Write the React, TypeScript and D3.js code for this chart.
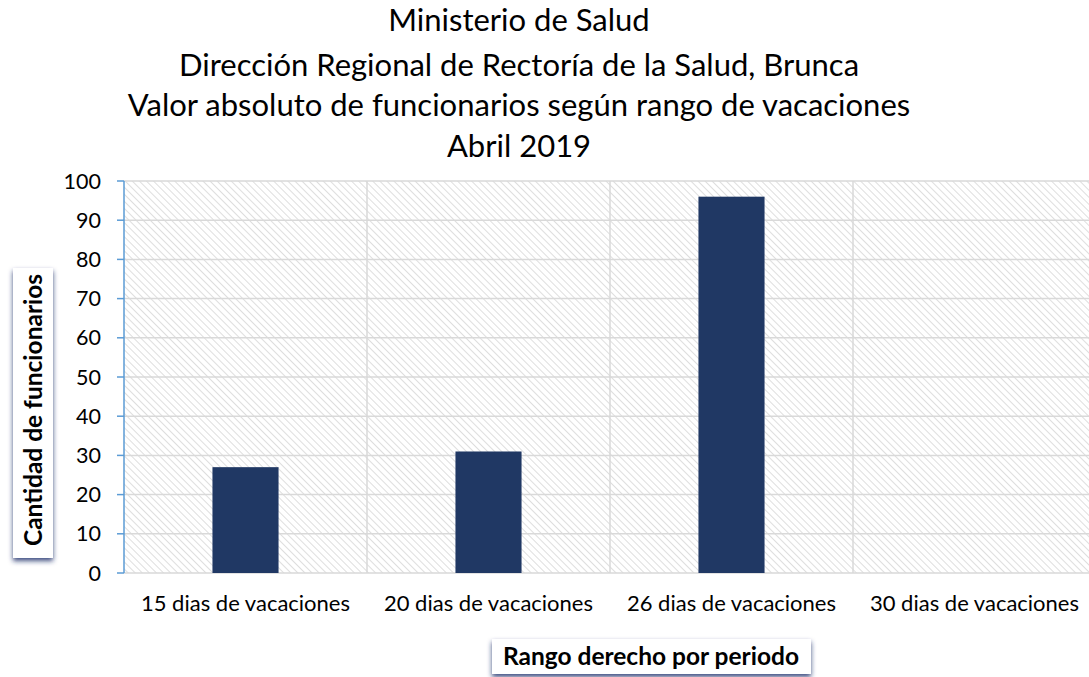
import React from "react";
import * as d3 from "d3";

const categories = ["15 dias de vacaciones", "20 dias de vacaciones", "26 dias de vacaciones", "30 dias de vacaciones"];
const values = [27, 31, 96, 0];
const yTicks = [0, 10, 20, 30, 40, 50, 60, 70, 80, 90, 100];
const titleLines = [
  "Ministerio de Salud",
  "Dirección Regional de Rectoría de la Salud, Brunca",
  "Valor absoluto de funcionarios según rango de vacaciones",
  "Abril 2019",
];
const yTitle = "Cantidad de funcionarios";
const xTitle = "Rango derecho por periodo";

const W = 1089;
const H = 677;
const font = "Lato, 'Open Sans', sans-serif";

export default function App() {
  const left = 124, right = 1096, top = 181, bottom = 573;
  const x = d3.scaleBand<string>().domain(categories).range([left, right]).paddingInner(0).paddingOuter(0);
  const y = d3.scaleLinear().domain([0, 100]).range([bottom, top]);
  const bw = x.bandwidth();
  const barW = bw * 0.272;
  const titleY = [31, 76, 116, 157];

  return (
    <svg width={W} height={H} style={{ position: "absolute", left: 0, top: 0, background: "#fff" }}>
      <defs>
        <pattern id="hatch" width="5" height="5" patternUnits="userSpaceOnUse" patternTransform="rotate(-45)">
          <rect width="5" height="5" fill="#fff" />
          <line x1="0" y1="0" x2="0" y2="5" stroke="#dedede" strokeWidth="2" />
        </pattern>
        <filter id="shadow" x="-50%" y="-50%" width="200%" height="200%">
          <feGaussianBlur in="SourceAlpha" stdDeviation="2.5" />
          <feOffset dx="0" dy="3" result="b" />
          <feFlood floodColor="#1f2f6b" floodOpacity="0.85" />
          <feComposite in2="b" operator="in" />
          <feMerge>
            <feMergeNode />
            <feMergeNode in="SourceGraphic" />
          </feMerge>
        </filter>
      </defs>

      {titleLines.map((t, i) => (
        <text key={i} x={519} y={titleY[i]} textAnchor="middle" fontFamily={font} fontSize={31} fill="#000">
          {t}
        </text>
      ))}

      <rect x={left} y={top} width={right - left} height={bottom - top} fill="url(#hatch)" />

      {yTicks.map((t) => (
        <line key={"g" + t} x1={left} x2={right} y1={y(t)} y2={y(t)} stroke="#d9d9d9" strokeWidth={1.5} />
      ))}
      {categories.map((c, i) =>
        i > 0 ? (
          <line key={"v" + c} x1={x(c)!} x2={x(c)!} y1={top} y2={bottom} stroke="#d9d9d9" strokeWidth={1.5} />
        ) : null
      )}

      {categories.map((c, i) =>
        values[i] > 0 ? (
          <rect
            key={"b" + c}
            x={x(c)! + bw / 2 - barW / 2}
            y={y(values[i])}
            width={barW}
            height={y(0) - y(values[i])}
            fill="#203864"
          />
        ) : null
      )}

      <line x1={left} x2={left} y1={top} y2={bottom} stroke="#5b9bd5" strokeWidth={1.5} />
      {yTicks.map((t) => (
        <g key={"t" + t}>
          <line x1={left - 7} x2={left} y1={y(t)} y2={y(t)} stroke="#5b9bd5" strokeWidth={1.5} />
          <text x={101} y={y(t) + 7.5} textAnchor="end" fontFamily={font} fontSize={21.5} fill="#000">
            {t}
          </text>
        </g>
      ))}

      {categories.map((c) => (
        <text key={"x" + c} x={x(c)! + bw / 2} y={611} textAnchor="middle" fontFamily={font} fontSize={22} fill="#000">
          {c}
        </text>
      ))}

      <g filter="url(#shadow)">
        <rect x={13} y={268} width={40} height={290} fill="#fff" />
      </g>
      <text
        transform={`translate(42, ${410}) rotate(-90)`}
        textAnchor="middle"
        fontFamily={font}
        fontWeight="bold"
        fontSize={24.5}
        fill="#000"
      >
        {yTitle}
      </text>

      <g filter="url(#shadow)">
        <rect x={492} y={639} width={319} height={35} fill="#fff" />
      </g>
      <text x={651} y={665} textAnchor="middle" fontFamily={font} fontWeight="bold" fontSize={24.5} fill="#000">
        {xTitle}
      </text>
    </svg>
  );
}
